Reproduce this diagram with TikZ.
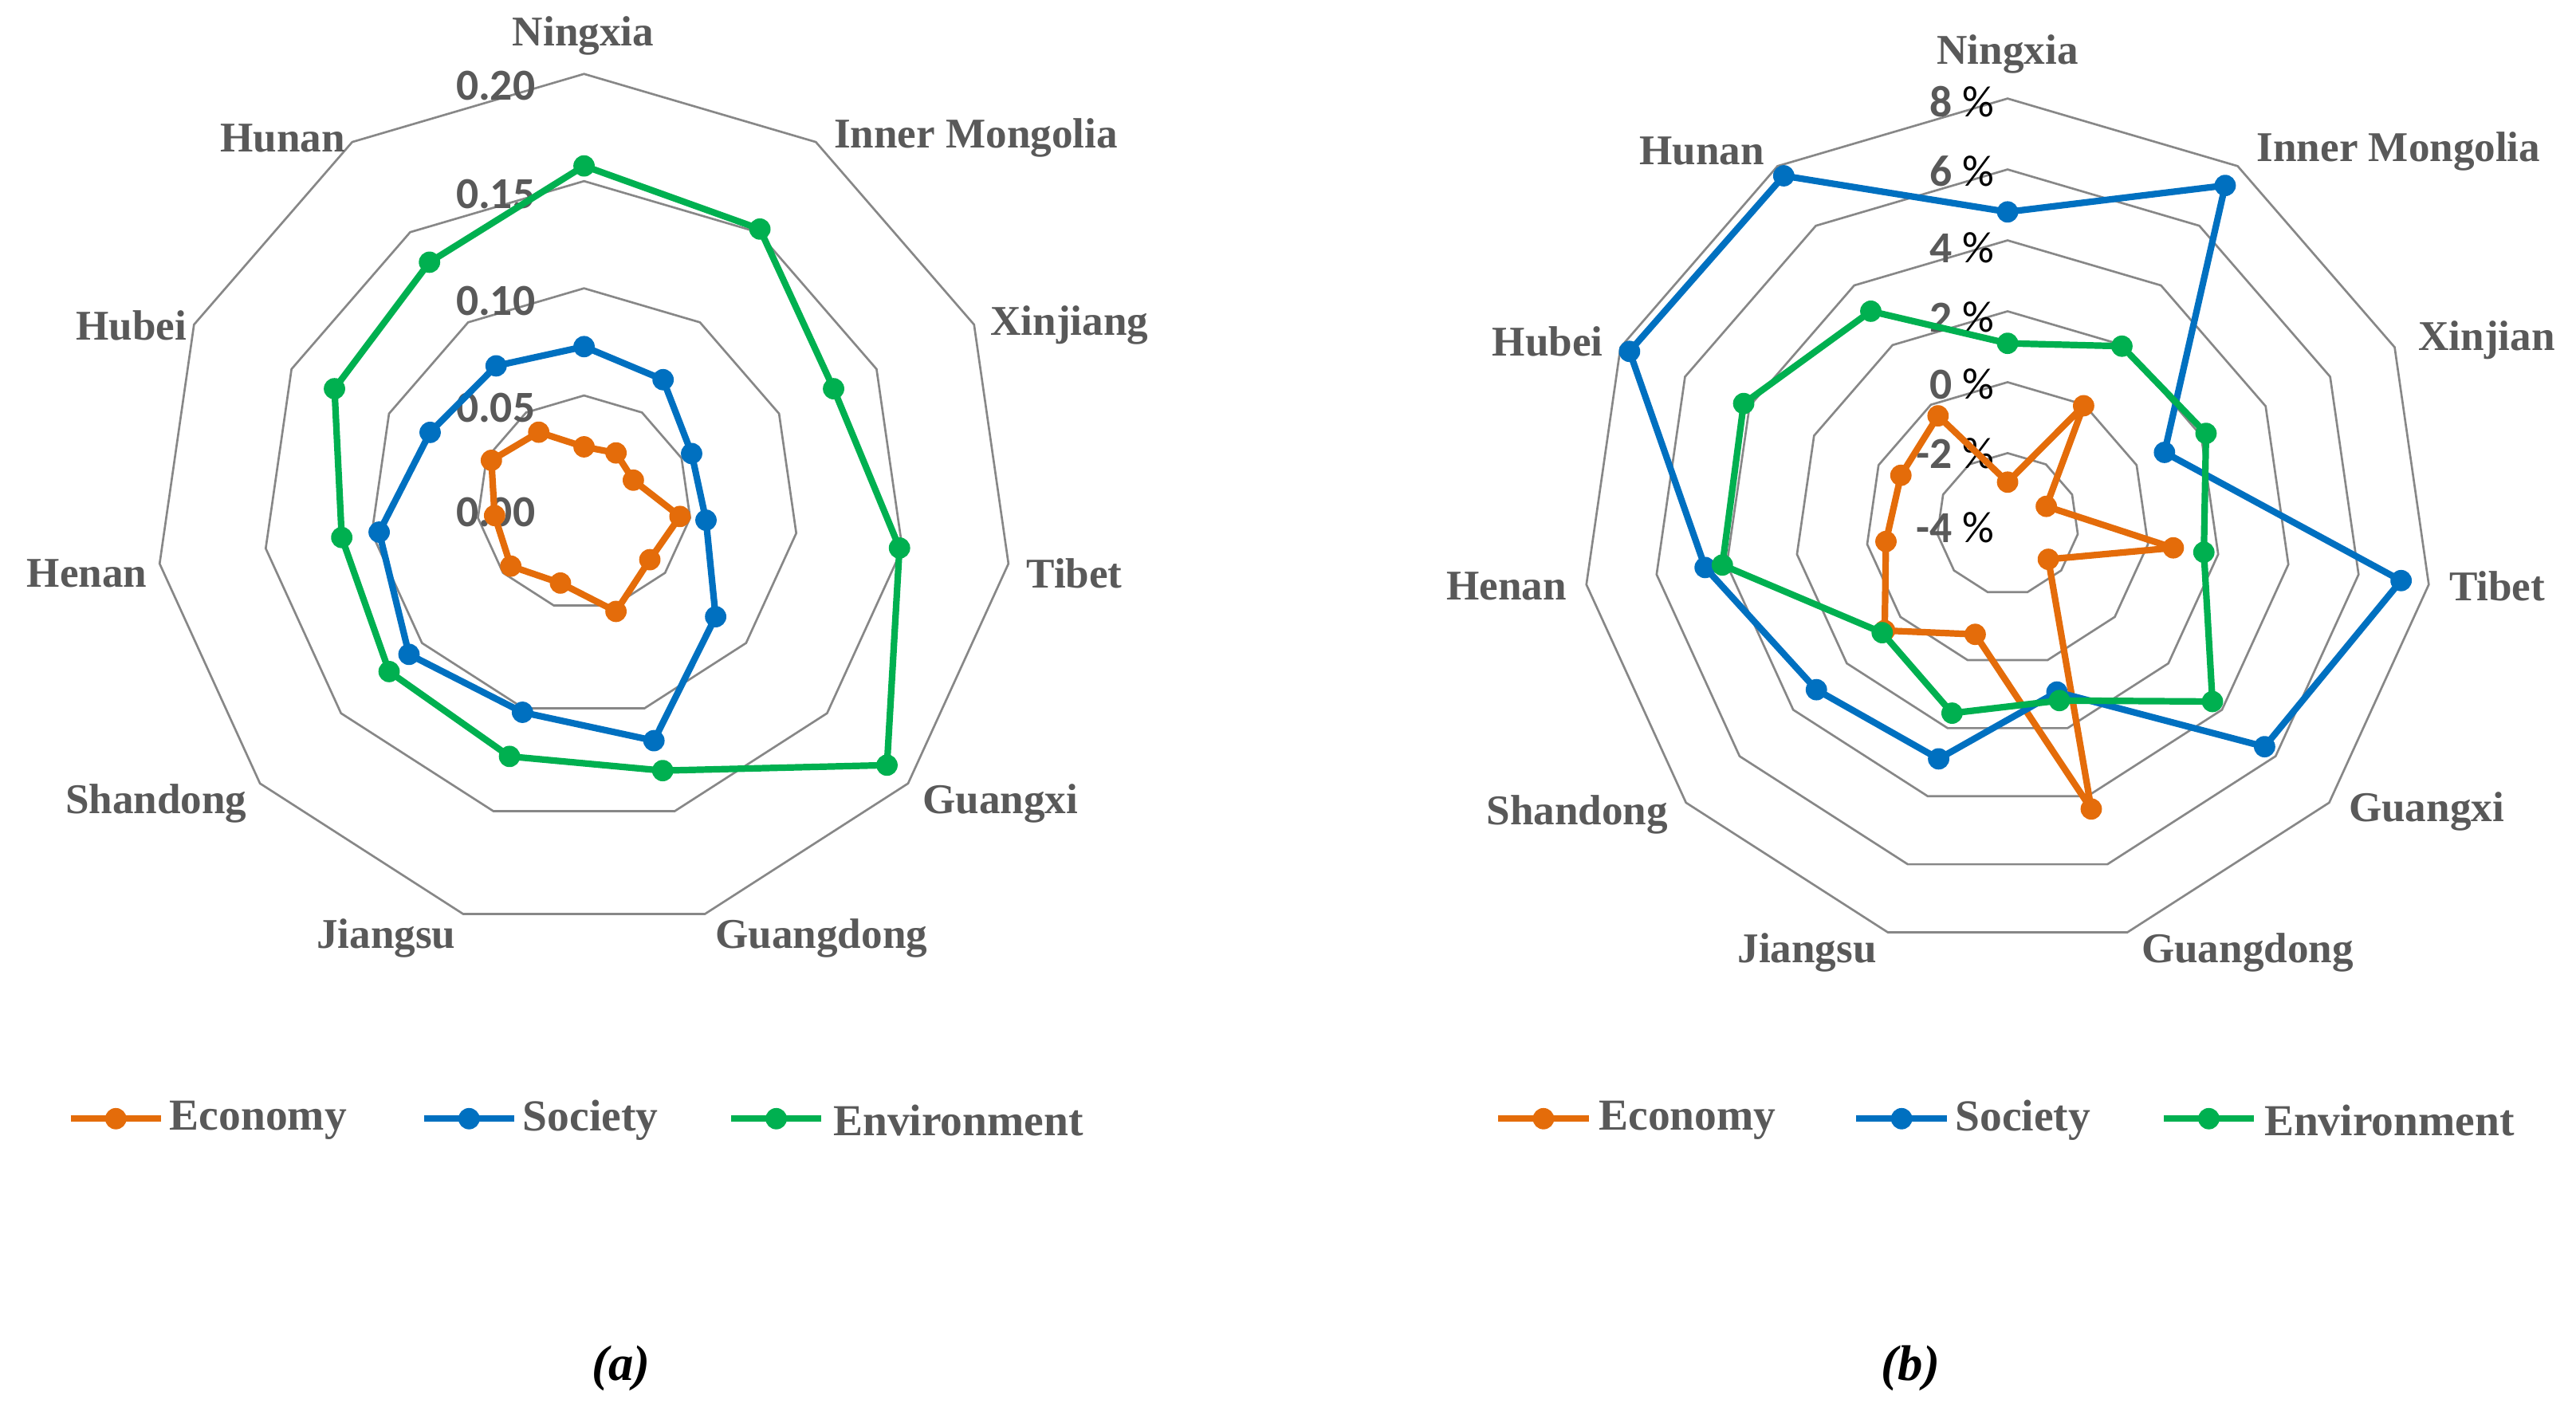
\documentclass[tikz,border=0pt]{standalone}
\usepackage{fontspec}
\usetikzlibrary{calc}
\setmainfont{Liberation Serif}
\newfontfamily\axf{Carlito}
\definecolor{eco}{HTML}{E46C0A}
\definecolor{soc}{HTML}{0070C0}
\definecolor{env}{HTML}{00B050}
\definecolor{grd}{HTML}{878787}
\definecolor{txt}{HTML}{595959}
\begin{document}
\begin{tikzpicture}[x=0.03cm,y=-0.03cm,
  grid/.style={draw=grd,line width=1.1pt},
  ser/.style={line width=3.4pt,line join=round},
  mk/.style={circle,inner sep=0pt,minimum size=0.39cm},
  cat/.style={text=txt,font=\bfseries\fontsize{22}{24}\selectfont},
  ax/.style={text=txt,font=\axf\bfseries\fontsize{23}{25}\selectfont,anchor=east,inner sep=0pt},
  leg/.style={text=txt,font=\bfseries\fontsize{23}{25}\selectfont,anchor=west,inner sep=0pt},
  captxt/.style={font=\bfseries\itshape\fontsize{26}{28}\selectfont}]
\useasboundingbox (0,0) rectangle (1568,866);
\newcommand\myseries[5]{%
  \foreach \r [count=\k from 0] in {#5}
    \coordinate (#1\k) at ({#2+\r*cos(90-\k*32.72727)},{#3-\r*sin(90-\k*32.72727)});
  \draw[ser,#4] (#10) \foreach \k in {1,...,10}{ -- (#1\k)} -- cycle;
  \foreach \k in {0,...,10} \node[mk,fill=#4] at (#1\k) {};
}
\newcommand\myring[4]{%
  \foreach \k in {0,...,10}
    \coordinate (#1\k) at ({#2+#4*cos(90-\k*32.72727)},{#3-#4*sin(90-\k*32.72727)});
  \draw[grid] (#10) \foreach \k in {1,...,10}{ -- (#1\k)} -- cycle;
}
% ---------- chart (a)
\foreach \j in {1,...,4} {\myring{ga\j}{355.5}{306}{65.25*\j}}
\node[ax] at (326,52) {0.20};
\node[ax] at (326,118) {0.15};
\node[ax] at (326,183) {0.10};
\node[ax] at (326,248) {0.05};
\node[ax] at (326,312) {0.00};
\myseries{ae}{355.5}{306}{eco}{34,36,33,59,53,69,51,59,55,62,51}
\myseries{as}{355.5}{306}{soc}{95,89,72,75,106,151,133,141,126,103,99}
\myseries{av}{355.5}{306}{env}{205,198,167,194,244,170,161,157,149,167,174}
\node[cat] at (355,22) {Ningxia};
\node[cat] at (594,84) {Inner Mongolia};
\node[cat] at (651,198) {Xinjiang};
\node[cat] at (654,349) {Tibet};
\node[cat] at (609,489) {Guangxi};
\node[cat] at (500,571) {Guangdong};
\node[cat] at (235,571) {Jiangsu};
\node[cat] at (95,489) {Shandong};
\node[cat] at (53,349) {Henan};
\node[cat] at (80,198) {Hubei};
\node[cat] at (172,84) {Hunan};
% ---------- chart (b)
\foreach \j in {1,...,6} {\myring{gb\j}{1222}{319}{43.17*\j}}
\foreach \v/\y in {8/62,6/104,4/151,2/193,0/234,-2/276,-4/321}
  \node[ax] at (1214,\y) {\v\ \textcolor{black}{\mdseries\%}};
\myseries{be}{1222}{319}{eco}{25.5,85.6,25.9,101.9,32.8,180.8,70,99,74.8,71.4,78.3}
\myseries{bs}{1222}{319}{soc}{190,245,105,242,207,106.6,149,154,186,253,252}
\myseries{bv}{1222}{319}{env}{110,128.7,132.8,120.7,165,112,120,101,175.4,176.6,154}
\node[cat] at (1222,33) {Ningxia};
\node[cat] at (1460,92) {Inner Mongolia};
\node[cat,anchor=west] at (1468,207) {Xinjian};
\node[cat] at (1520,357) {Tibet};
\node[cat] at (1477,494) {Guangxi};
\node[cat] at (1368,580) {Guangdong};
\node[cat] at (1100,580) {Jiangsu};
\node[cat] at (960,496) {Shandong};
\node[cat] at (917,357) {Henan};
\node[cat] at (942,208) {Hubei};
\node[cat] at (1036,92) {Hunan};
% ---------- legends
\foreach \xa/\xt/\c/\t in {43/103/eco/Economy,258/318/soc/Society,445/507/env/Environment,
                          912/973/eco/Economy,1130/1190/soc/Society,1317/1378/env/Environment}{
  \coordinate (l1) at (\xa,681);
  \coordinate (l2) at (\xa+55,681);
  \draw[ser,\c] (l1) -- (l2);
  \node[mk,fill=\c] at ($(l1)!0.5!(l2)$) {};
  \node[leg] at (\xt,682) {\t};
}
\node[captxt] at (378,833) {(a)};
\node[captxt] at (1163,833) {(b)};
\end{tikzpicture}
\end{document}
